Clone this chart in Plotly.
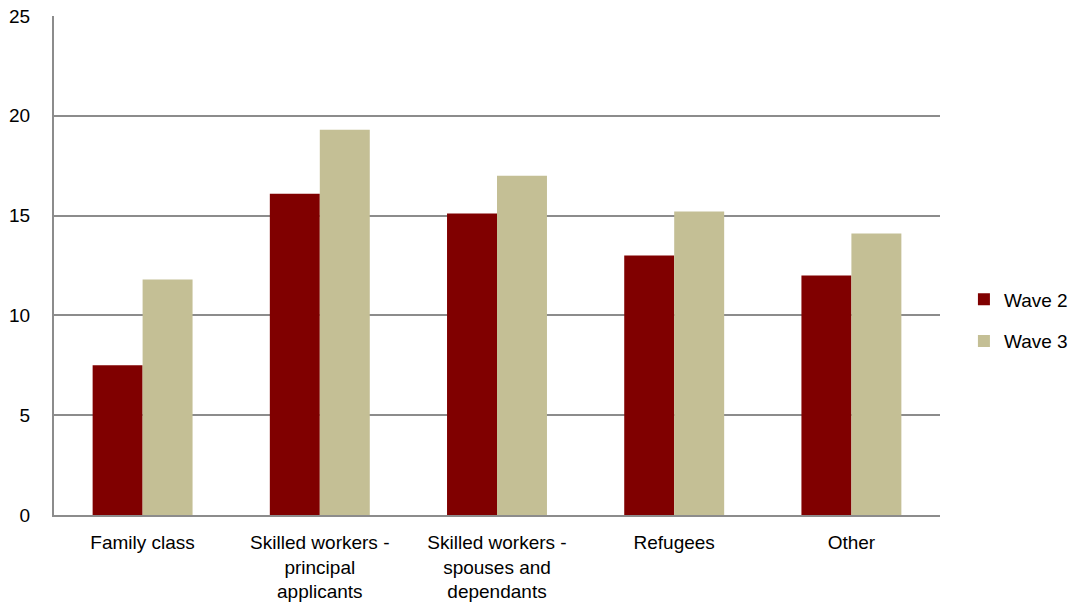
import plotly.graph_objects as go

categories = [
    "Family class",
    "Skilled workers -<br>principal<br>applicants",
    "Skilled workers -<br>spouses and<br>dependants",
    "Refugees",
    "Other",
]
wave2 = [7.5, 16.1, 15.1, 13.0, 12.0]
wave3 = [11.8, 19.3, 17.0, 15.2, 14.1]
y_ticks = [0, 5, 10, 15, 20, 25]

font_family = "Liberation Sans, Arial, sans-serif"

fig = go.Figure()
fig.add_trace(go.Bar(x=categories, y=wave2, name="Wave 2", legendgroup="w2",
                     marker=dict(color="#800000", line=dict(width=0))))
fig.add_trace(go.Bar(x=categories, y=wave3, name="Wave 3", legendgroup="w3",
                     marker=dict(color="#C4BF95", line=dict(width=0))))

fig.update_layout(
    width=1076, height=605,
    margin=dict(l=54, r=136, t=16, b=90, autoexpand=False),
    paper_bgcolor="white", plot_bgcolor="white",
    barmode="group", bargap=0.436, bargroupgap=0,
    font=dict(family=font_family, size=19, color="#000000"),
    showlegend=True,
    legend=dict(x=1.027, xanchor="left", y=0.39, yanchor="middle",
                font=dict(size=19), traceorder="grouped", tracegroupgap=14,
                itemwidth=30, bgcolor="rgba(0,0,0,0)"),
    xaxis=dict(showgrid=False, showline=True, linecolor="#8C8C8C", linewidth=2,
               ticks="", tickfont=dict(size=19), ticklabelstandoff=9,
               automargin=False),
    yaxis=dict(range=[0, 25], tickvals=y_ticks, showgrid=True, gridcolor="#8C8C8C",
               gridwidth=2, showline=True, linecolor="#8C8C8C", linewidth=2,
               ticks="", zeroline=False, tickfont=dict(size=19),
               ticklabelstandoff=18, automargin=False),
)

fig.write_html("out.html")
